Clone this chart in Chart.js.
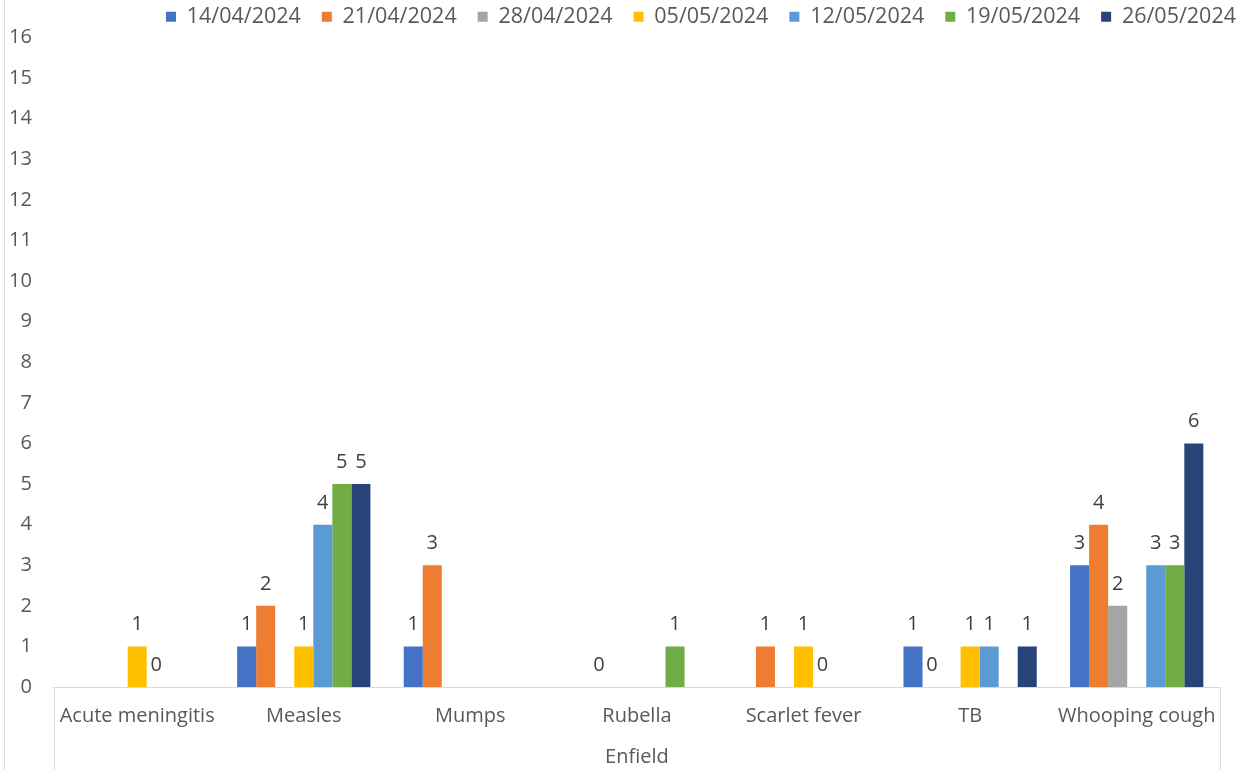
<!DOCTYPE html>
<html>
<head>
<meta charset="utf-8">
<script src="https://cdn.jsdelivr.net/npm/chart.js@4"></script>
<style>
  html, body { margin: 0; padding: 0; background: #fff; }
  #wrap { width: 1238px; height: 770px; position: relative; }
</style>
</head>
<body>
<div id="wrap"><canvas id="chart"></canvas></div>
<script>
const categories = ['Acute meningitis', 'Measles', 'Mumps', 'Rubella', 'Scarlet fever', 'TB', 'Whooping cough'];
const weeks = ['14/04/2024', '21/04/2024', '28/04/2024', '05/05/2024', '12/05/2024', '19/05/2024', '26/05/2024'];
const colors = ['#4472C4', '#ED7D31', '#A5A5A5', '#FFC000', '#5B9BD5', '#70AD47', '#264478'];

// one array per week, values per disease (null = no report)
const wk1404 = [null, 1, 1, null, null, 1, 3];
const wk2104 = [null, 2, 3, 0, 1, 0, 4];
const wk2804 = [null, null, null, null, null, null, 2];
const wk0505 = [1, 1, null, null, 1, 1, null];
const wk1205 = [0, 4, null, null, 0, 1, 3];
const wk1905 = [null, 5, null, 1, null, null, 3];
const wk2605 = [null, 5, null, null, null, 1, 6];
const seriesValues = [wk1404, wk2104, wk2804, wk0505, wk1205, wk1905, wk2605];

const yTicks = [0, 16];
const xTitle = 'Enfield';

const textColor = '#595959';
const lineColor = '#d9d9d9';
const fontFamily = "'Open Sans', sans-serif";

// simple value labels above each bar (zeros included, nulls skipped)
const barLabels = {
    id: 'barLabels',
    afterDatasetsDraw(chart) {
        const ctx = chart.ctx;
        ctx.save();
        ctx.font = '20px ' + fontFamily;
        ctx.fillStyle = '#404040';
        ctx.textAlign = 'center';
        ctx.textBaseline = 'alphabetic';
        chart.data.datasets.forEach((ds, i) => {
            const meta = chart.getDatasetMeta(i);
            meta.data.forEach((bar, j) => {
                const v = ds.data[j];
                if (v === null || v === undefined) return;
                ctx.fillText(String(v), bar.x, bar.y - 16);
            });
        });
        ctx.restore();
    }
};

// Excel-like frame: left chart border and the box around the category labels
const frame = {
    id: 'frame',
    beforeDraw(chart) {
        const ctx = chart.ctx;
        ctx.save();
        ctx.fillStyle = '#fff';
        ctx.fillRect(0, 0, chart.width, chart.height);
        ctx.restore();
    },
    afterDraw(chart) {
        const ctx = chart.ctx;
        const a = chart.chartArea;
        ctx.save();
        ctx.strokeStyle = lineColor;
        ctx.lineWidth = 1;
        ctx.beginPath();
        ctx.moveTo(4.5, 0);
        ctx.lineTo(4.5, chart.height);
        ctx.moveTo(Math.round(a.left) + 0.5, a.bottom);
        ctx.lineTo(Math.round(a.left) + 0.5, chart.height);
        ctx.moveTo(Math.round(a.right) + 0.5, a.bottom);
        ctx.lineTo(Math.round(a.right) + 0.5, chart.height);
        ctx.stroke();
        ctx.restore();
    }
};

Chart.defaults.font.family = fontFamily;
Chart.defaults.color = textColor;

new Chart(document.getElementById('chart'), {
    type: 'bar',
    data: {
        labels: categories,
        datasets: weeks.map((w, i) => ({
            label: w,
            data: seriesValues[i],
            backgroundColor: colors[i],
            borderWidth: 0,
            categoryPercentage: 0.8,
            barPercentage: 1.0
        }))
    },
    options: {
        responsive: true,
        maintainAspectRatio: false,
        animation: false,
        // y tick padding is counted on both sides of the labels, hence the negative left
        layout: { padding: { left: -13, right: -19, top: -15, bottom: 1 } },
        plugins: {
            legend: {
                position: 'top',
                align: 'end',
                labels: {
                    boxWidth: 10,
                    boxHeight: 10,
                    padding: 21,
                    font: { size: 21.5 },
                    color: textColor
                }
            },
            tooltip: { enabled: false }
        },
        scales: {
            x: {
                grid: { display: false, drawTicks: false },
                border: { display: true, color: lineColor, width: 1 },
                ticks: { font: { size: 20 }, color: textColor, padding: 17, maxRotation: 0 },
                title: { display: true, text: xTitle, font: { size: 20 }, color: textColor, padding: { top: 0, bottom: 0 } },
                afterFit(scale) { scale.paddingLeft = 0; scale.paddingRight = 0; }
            },
            y: {
                min: yTicks[0],
                max: yTicks[1],
                grid: { display: false, drawTicks: false },
                border: { display: false },
                ticks: { stepSize: 1, font: { size: 20 }, color: textColor, padding: 22 }
            },
            // empty right gutter so the legend can reach further right than the plot
            gutter: {
                type: 'linear',
                position: 'right',
                display: true,
                grid: { display: false, drawTicks: false },
                border: { display: false },
                ticks: { display: false },
                afterFit(scale) { scale.width = 37; }
            }
        }
    },
    plugins: [frame, barLabels]
});
</script>
</body>
</html>
